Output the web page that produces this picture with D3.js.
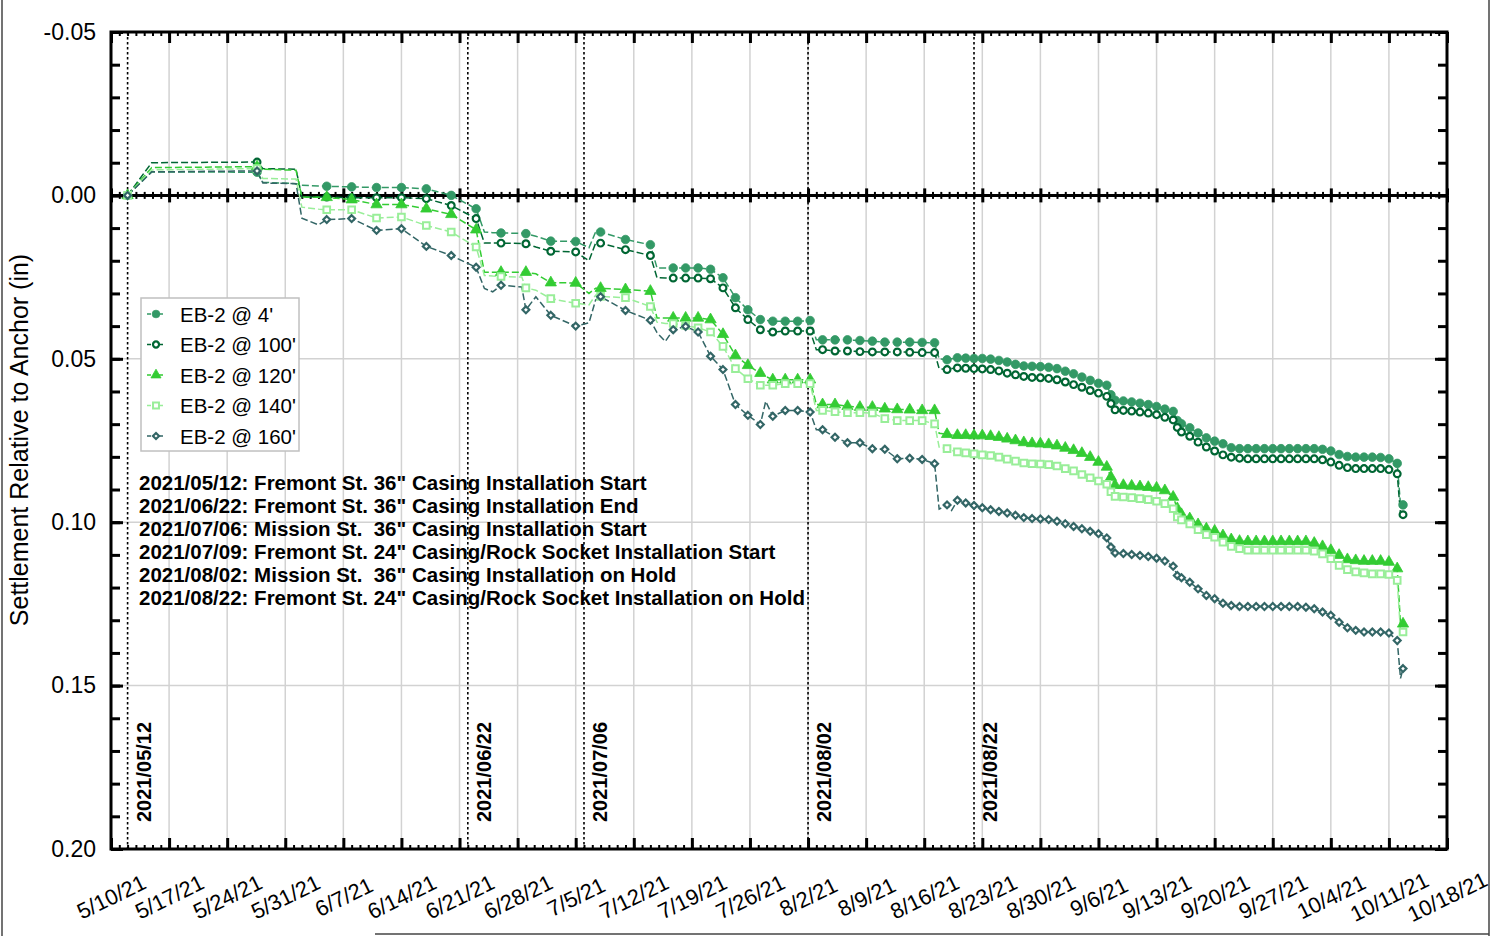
<!DOCTYPE html>
<html><head><meta charset="utf-8">
<script src="https://cdn.jsdelivr.net/npm/d3@7"></script>
<style>body{margin:0;background:#fff}svg{display:block}text{font-family:"Liberation Sans",Arial,sans-serif}</style>
</head><body>
<svg id="c" width="1500" height="936"></svg>
<script>
// ---------------- DATA ----------------
const dates = [
"2021-05-12 00:00","2021-05-14 21:36","2021-05-27 14:24","2021-05-28 07:12","2021-06-01 07:12","2021-06-02 00:00","2021-06-04 00:00","2021-06-05 00:00","2021-06-08 00:00","2021-06-11 00:00",
"2021-06-14 00:00","2021-06-17 00:00","2021-06-20 00:00","2021-06-23 00:00","2021-06-24 00:00","2021-06-25 00:00","2021-06-26 00:00","2021-06-28 12:00","2021-06-29 00:00","2021-06-30 04:48",
"2021-07-02 00:00","2021-07-05 00:00","2021-07-06 14:24","2021-07-07 09:36","2021-07-08 00:00","2021-07-11 00:00","2021-07-14 00:00","2021-07-14 19:12","2021-07-15 19:12","2021-07-16 18:00",
"2021-07-18 06:00","2021-07-19 18:00","2021-07-21 06:00","2021-07-22 18:00","2021-07-24 06:00","2021-07-25 18:00","2021-07-27 06:00","2021-07-27 21:36","2021-07-28 18:00","2021-07-30 06:00",
"2021-07-31 18:00","2021-08-02 06:00","2021-08-03 00:00","2021-08-03 18:00","2021-08-05 06:00","2021-08-06 18:00","2021-08-08 06:00","2021-08-09 18:00","2021-08-11 06:00","2021-08-12 18:00",
"2021-08-14 06:00","2021-08-15 18:00","2021-08-17 06:00","2021-08-17 19:12","2021-08-18 18:00","2021-08-19 07:12",
"2021-08-20 00:00","2021-08-21 00:00","2021-08-22 00:00","2021-08-23 00:00","2021-08-24 00:00","2021-08-25 00:00","2021-08-26 00:00","2021-08-27 00:00","2021-08-28 00:00","2021-08-29 00:00","2021-08-30 00:00","2021-08-31 00:00",
"2021-09-01 00:00","2021-09-02 00:00","2021-09-03 00:00","2021-09-04 00:00","2021-09-05 00:00","2021-09-06 00:00","2021-09-07 00:00",
"2021-09-07 12:00",
"2021-09-08 00:00","2021-09-09 00:00","2021-09-10 00:00","2021-09-11 00:00","2021-09-12 00:00","2021-09-13 00:00","2021-09-14 00:00","2021-09-15 00:00",
"2021-09-15 12:00",
"2021-09-16 00:00","2021-09-17 00:00","2021-09-18 00:00","2021-09-19 00:00","2021-09-20 00:00","2021-09-21 00:00","2021-09-22 00:00","2021-09-23 00:00","2021-09-24 00:00","2021-09-25 00:00","2021-09-26 00:00","2021-09-27 00:00","2021-09-28 00:00","2021-09-29 00:00","2021-09-30 00:00",
"2021-10-01 00:00","2021-10-02 00:00","2021-10-03 00:00","2021-10-04 00:00","2021-10-05 00:00","2021-10-06 00:00","2021-10-07 00:00","2021-10-08 00:00","2021-10-09 00:00","2021-10-10 00:00","2021-10-11 00:00","2021-10-12 00:00",
"2021-10-12 09:36","2021-10-12 16:48"
];
const markerOn = [
1,0,1,0,0,0,0,1,1,1, 1,1,1,1,0,0,1,0,1,0, 1,1,0,0,1,1,1,0,0,1, 1,1,1,1,1,1,1,0,1,1, 1,1,0,1,1,1,1,1,1,1, 1,1,1,0,1,0,
1,1,1,1,1,1,1,1,1,1,1,1, 1,1,1,1,1,1,1, 1, 1,1,1,1,1,1,1,1, 1, 1,1,1,1,1,1,1,1,1,1,1,1,1,1,1, 1,1,1,1,1,1,1,1,1,1,1,1, 0,1
];
const eb2_4 = [
0,-0.0072,-0.0071,-0.0040,-0.0036,-0.0031,-0.0029,-0.0028,-0.0026,-0.0024, -0.0024,-0.0020,0.0000,0.0041,0.0112,0.0114,0.0115,0.0116,0.0117,0.0125,
0.0140,0.0141,0.0160,0.0112,0.0112,0.0135,0.0151,0.0222,0.0222,0.0222, 0.0222,0.0222,0.0226,0.0252,0.0313,0.0350,0.0380,0.0382,0.0385,0.0385,
0.0385,0.0383,0.0442,0.0442,0.0442,0.0442,0.0444,0.0446,0.0449,0.0449, 0.0449,0.0450,0.0451,0.0500,0.0503,0.0500,
0.0497,0.0498,0.0499,0.0499,0.0501,0.0505,0.0510,0.0517,0.0522,0.0523,0.0524,0.0526,
0.0530,0.0538,0.0546,0.0556,0.0566,0.0575,0.0581, 0.0610,
0.0627,0.0629,0.0632,0.0636,0.0640,0.0646,0.0654,0.0661, 0.0689,
0.0699,0.0711,0.0727,0.0742,0.0752,0.0760,0.0772,0.0775,0.0775,0.0775,0.0775,0.0775,0.0775,0.0775,0.0775,
0.0775,0.0775,0.0777,0.0782,0.0793,0.0799,0.0801,0.0801,0.0801,0.0802,0.0806,0.0820,
0.0947,0.0947
];
const eb2_100 = [
0,-0.0100,-0.0102,-0.0082,-0.0080,0.0005,0.0005,0.0005,0.0007,0.0007, 0.0007,0.0010,0.0031,0.0071,0.0146,0.0146,0.0146,0.0147,0.0148,0.0158,
0.0171,0.0173,0.0200,0.0146,0.0146,0.0166,0.0184,0.0252,0.0253,0.0253, 0.0253,0.0253,0.0255,0.0283,0.0344,0.0380,0.0411,0.0414,0.0418,0.0415,
0.0415,0.0415,0.0472,0.0472,0.0476,0.0476,0.0478,0.0479,0.0479,0.0479, 0.0480,0.0481,0.0481,0.0530,0.0533,0.0530,
0.0528,0.0529,0.0530,0.0531,0.0533,0.0537,0.0544,0.0549,0.0554,0.0557,0.0558,0.0560,
0.0564,0.0571,0.0579,0.0587,0.0597,0.0605,0.0615, 0.0637,
0.0656,0.0658,0.0660,0.0663,0.0666,0.0671,0.0679,0.0687, 0.0710,
0.0724,0.0737,0.0755,0.0770,0.0782,0.0794,0.0801,0.0804,0.0806,0.0806,0.0806,0.0806,0.0806,0.0806,0.0806,
0.0806,0.0806,0.0809,0.0816,0.0826,0.0833,0.0836,0.0836,0.0836,0.0836,0.0839,0.0852,
0.0977,0.0977
];
const eb2_120 = [
0,-0.0085,-0.0088,-0.0080,-0.0077,0.0005,0.0006,0.0006,0.0013,0.0028, 0.0028,0.0041,0.0058,0.0105,0.0235,0.0235,0.0235,0.0235,0.0235,0.0240,
0.0267,0.0268,0.0300,0.0284,0.0284,0.0288,0.0293,0.0375,0.0375,0.0375, 0.0375,0.0375,0.0380,0.0425,0.0490,0.0520,0.0544,0.0554,0.0564,0.0564,
0.0564,0.0564,0.0640,0.0640,0.0640,0.0645,0.0648,0.0648,0.0653,0.0655, 0.0656,0.0658,0.0658,0.0728,0.0731,0.0733,
0.0734,0.0734,0.0735,0.0735,0.0737,0.0740,0.0745,0.0750,0.0756,0.0759,0.0760,0.0762,
0.0766,0.0773,0.0780,0.0789,0.0801,0.0816,0.0831, 0.0862,
0.0887,0.0887,0.0889,0.0891,0.0893,0.0895,0.0903,0.0923, 0.0958,
0.0976,0.0989,0.1007,0.1020,0.1027,0.1041,0.1053,0.1058,0.1059,0.1059,0.1059,0.1059,0.1059,0.1059,0.1059,
0.1059,0.1064,0.1074,0.1086,0.1101,0.1114,0.1117,0.1119,0.1119,0.1119,0.1122,0.1142,
0.1311,0.1311
];
const eb2_140 = [
0,-0.0078,-0.0082,-0.0052,-0.0050,0.0036,0.0042,0.0044,0.0044,0.0069, 0.0066,0.0092,0.0112,0.0158,0.0245,0.0247,0.0248,0.0250,0.0283,0.0290,
0.0316,0.0330,0.0335,0.0305,0.0309,0.0313,0.0340,0.0388,0.0392,0.0392, 0.0398,0.0405,0.0418,0.0462,0.0530,0.0561,0.0581,0.0581,0.0581,0.0576,
0.0576,0.0576,0.0658,0.0658,0.0662,0.0665,0.0665,0.0666,0.0683,0.0689, 0.0689,0.0689,0.0699,0.0770,0.0775,0.0780,
0.0785,0.0788,0.0791,0.0794,0.0796,0.0801,0.0807,0.0813,0.0819,0.0821,0.0822,0.0824,
0.0828,0.0836,0.0843,0.0854,0.0864,0.0874,0.0884, 0.0907,
0.0921,0.0923,0.0925,0.0928,0.0931,0.0936,0.0943,0.0959, 0.0984,
0.0993,0.1005,0.1023,0.1038,0.1046,0.1061,0.1074,0.1081,0.1086,0.1086,0.1086,0.1086,0.1086,0.1086,0.1086,
0.1086,0.1089,0.1097,0.1112,0.1132,0.1145,0.1152,0.1155,0.1158,0.1158,0.1160,0.1178,
0.1336,0.1336
];
const eb2_160 = [
0,-0.0072,-0.0075,-0.0038,-0.0036,0.0070,0.0090,0.0074,0.0071,0.0107, 0.0102,0.0156,0.0184,0.0220,0.0285,0.0295,0.0275,0.0280,0.0350,0.0310,
0.0367,0.0400,0.0390,0.0320,0.0310,0.0352,0.0382,0.0420,0.0447,0.0411, 0.0401,0.0418,0.0492,0.0533,0.0640,0.0673,0.0701,0.0630,0.0676,0.0658,
0.0658,0.0663,0.0717,0.0717,0.0740,0.0757,0.0757,0.0775,0.0777,0.0806, 0.0804,0.0808,0.0821,0.0960,0.0947,0.0964,
0.0933,0.0941,0.0949,0.0956,0.0962,0.0967,0.0972,0.0979,0.0986,0.0989,0.0990,0.0992,
0.0997,0.1005,0.1013,0.1020,0.1028,0.1035,0.1048, 0.1076,
0.1094,0.1096,0.1099,0.1102,0.1105,0.1110,0.1119,0.1135, 0.1163,
0.1170,0.1184,0.1204,0.1224,0.1234,0.1248,0.1255,0.1258,0.1258,0.1258,0.1258,0.1258,0.1258,0.1258,0.1258,
0.1260,0.1265,0.1275,0.1285,0.1306,0.1323,0.1331,0.1336,0.1336,0.1336,0.1339,0.1362,
0.1478,0.1448
];
const seriesNames = ["EB-2 @ 4'","EB-2 @ 100'","EB-2 @ 120'","EB-2 @ 140'","EB-2 @ 160'"];
const yTicks = [-0.05, 0.00, 0.05, 0.10, 0.15, 0.20];
const xTickDates = ["2021-05-10","2021-05-17","2021-05-24","2021-05-31","2021-06-07","2021-06-14","2021-06-21","2021-06-28","2021-07-05","2021-07-12","2021-07-19","2021-07-26","2021-08-02","2021-08-09","2021-08-16","2021-08-23","2021-08-30","2021-09-06","2021-09-13","2021-09-20","2021-09-27","2021-10-04","2021-10-11","2021-10-18"];
const eventDates = ["2021-05-12","2021-06-22","2021-07-06","2021-08-02","2021-08-22"];
const eventLabels = ["2021/05/12","2021/06/22","2021/07/06","2021/08/02","2021/08/22"];
const notes = [
"2021/05/12: Fremont St. 36\" Casing Installation Start",
"2021/06/22: Fremont St. 36\" Casing Installation End",
"2021/07/06: Mission St.  36\" Casing Installation Start",
"2021/07/09: Fremont St. 24\" Casing/Rock Socket Installation Start",
"2021/08/02: Mission St.  36\" Casing Installation on Hold",
"2021/08/22: Fremont St. 24\" Casing/Rock Socket Installation on Hold"
];
const yTitle = "Settlement Relative to Anchor (in)";

// ---------------- DRAW ----------------
const p1 = d3.timeParse("%Y-%m-%d %H:%M"), p2 = d3.timeParse("%Y-%m-%d");
const parse = s => p1(s) || p2(s);
const T = dates.map(parse);
const svg = d3.select("#c");
const L = 111, R = 1447, TOP = 32, BOT = 849;
const x = d3.scaleTime().domain([parse(xTickDates[0]), parse(xTickDates[xTickDates.length-1])]).range([L, R]);
const y = d3.scaleLinear().domain([yTicks[0], yTicks[yTicks.length-1]]).range([TOP, BOT]);
const weeks = xTickDates.map(parse);
const days = d3.timeDay.range(x.domain()[0], d3.timeDay.offset(x.domain()[1], 1));
const minorY = d3.range(0, 26).map(i => +(yTicks[0] + i * 0.01).toFixed(2));

const diamondSym = d3.symbolDiamond2 || d3.symbolDiamond;
const styles = [
  {color:"#339966", sym:d3.symbolCircle, size:58, fill:true},
  {color:"#006633", sym:d3.symbolCircle, size:36, fill:false, sw:2.2},
  {color:"#33cc33", sym:d3.symbolTriangle, size:55, fill:true},
  {color:"#99ee99", sym:d3.symbolSquare, size:44, fill:false, sw:2},
  {color:"#336666", sym:diamondSym, size:30, fill:false, sw:2.2}
];
const values = [eb2_4, eb2_100, eb2_120, eb2_140, eb2_160];

// image border
svg.append("line").attr("x1",2).attr("x2",2).attr("y1",0).attr("y2",936).attr("stroke","#444").attr("stroke-width",1.5);
svg.append("line").attr("x1",1489).attr("x2",1489).attr("y1",0).attr("y2",936).attr("stroke","#444").attr("stroke-width",1.5);
svg.append("line").attr("x1",375).attr("x2",1489).attr("y1",934).attr("y2",934).attr("stroke","#444").attr("stroke-width",1.5);

// grid
svg.append("g").selectAll("line").data(weeks.slice(1,-1)).join("line")
  .attr("x1",d=>x(d)).attr("x2",d=>x(d)).attr("y1",TOP).attr("y2",BOT)
  .attr("stroke","#d2d2d2").attr("stroke-width",1.5);
svg.append("g").selectAll("line").data(yTicks.filter(v=>v!==0).slice(1,-1)).join("line")
  .attr("x1",L).attr("x2",R).attr("y1",d=>y(d)).attr("y2",d=>y(d))
  .attr("stroke","#d2d2d2").attr("stroke-width",1.5);

// event lines
svg.append("g").selectAll("line").data(eventDates).join("line")
  .attr("x1",d=>x(parse(d))).attr("x2",d=>x(parse(d))).attr("y1",TOP).attr("y2",BOT)
  .attr("stroke","#000").attr("stroke-width",1.6).attr("stroke-dasharray","2.5,2.5");

// zero line with ticks on both sides
svg.append("line").attr("x1",L).attr("x2",R).attr("y1",y(0)).attr("y2",y(0)).attr("stroke","#000").attr("stroke-width",3);
function tickAxis(axis, vals, size, sw, tr){
  const g = svg.append("g").attr("transform",tr).call(axis.tickValues(vals).tickSize(size).tickFormat(""));
  g.select(".domain").remove();
  g.selectAll("line").attr("stroke","#000").attr("stroke-width",sw);
  return g;
}
tickAxis(d3.axisBottom(x), days, 3.5, 2, `translate(0,${y(0)})`);
tickAxis(d3.axisTop(x), days, 3.5, 2, `translate(0,${y(0)})`);
tickAxis(d3.axisBottom(x), weeks, 7, 3, `translate(0,${y(0)})`);
tickAxis(d3.axisTop(x), weeks, 7, 3, `translate(0,${y(0)})`);

// series lines
values.forEach((vals,k)=>{
  svg.append("path").datum(vals).attr("d", d3.line().x((d,i)=>x(T[i])).y(d=>y(d)))
    .attr("fill","none").attr("stroke",styles[k].color).attr("stroke-width",1.5)
    .attr("stroke-dasharray","7,3");
});
// markers
values.forEach((vals,k)=>{
  const st = styles[k];
  const pts = vals.map((v,i)=>({t:T[i], v, m:markerOn[i]})).filter(d=>d.m);
  svg.append("g").selectAll("path").data(pts).join("path")
    .attr("transform", d=>`translate(${x(d.t)},${y(d.v)})`)
    .attr("d", d3.symbol().type(st.sym).size(st.size))
    .attr("fill", st.fill ? st.color : "#fff")
    .attr("stroke", st.color).attr("stroke-width", st.fill ? 0.8 : st.sw);
});

// frame + axis ticks
svg.append("rect").attr("x",L).attr("y",TOP).attr("width",R-L).attr("height",BOT-TOP)
  .attr("fill","none").attr("stroke","#000").attr("stroke-width",3);
tickAxis(d3.axisBottom(x), days, 4, 2, `translate(0,${TOP})`);
tickAxis(d3.axisBottom(x), weeks, 11, 3, `translate(0,${TOP})`);
tickAxis(d3.axisTop(x), days, 4, 2, `translate(0,${BOT})`);
tickAxis(d3.axisTop(x), weeks, 11, 3, `translate(0,${BOT})`);
tickAxis(d3.axisRight(y), minorY, 9, 3, `translate(${L},0)`);
tickAxis(d3.axisRight(y), yTicks, 12, 3, `translate(${L},0)`);
tickAxis(d3.axisLeft(y), minorY, 9, 3, `translate(${R},0)`);
tickAxis(d3.axisLeft(y), yTicks, 12, 3, `translate(${R},0)`);

// y labels
const gy = svg.append("g").attr("transform",`translate(${L},0)`)
  .call(d3.axisLeft(y).tickValues(yTicks).tickSize(0).tickPadding(15).tickFormat(d=>d.toFixed(2)));
gy.select(".domain").remove();
gy.selectAll("text").attr("font-size",23).attr("fill","#000").style("font-family",'"Liberation Sans",Arial,sans-serif');

// x labels
const gx = svg.append("g").attr("transform",`translate(0,${BOT})`)
  .call(d3.axisBottom(x).tickValues(weeks).tickSize(0).tickFormat(d3.timeFormat("%-m/%-d/%y")));
gx.select(".domain").remove();
gx.selectAll("text").attr("y",0).attr("dy",null)
  .attr("transform","translate(0,48) rotate(-26)").attr("text-anchor","middle")
  .attr("dominant-baseline","central").attr("font-size",22).attr("fill","#000")
  .style("font-family",'"Liberation Sans",Arial,sans-serif');

// y title
svg.append("text").attr("transform","translate(28,440) rotate(-90)").attr("text-anchor","middle")
  .attr("font-size",25).text(yTitle);

// event labels
svg.append("g").selectAll("text").data(eventLabels).join("text")
  .attr("transform",(d,i)=>`translate(${x(parse(eventDates[i]))+23},822) rotate(-90)`)
  .attr("font-size",20).attr("font-weight","bold").text(d=>d);

// notes
svg.append("g").selectAll("text").data(notes).join("text")
  .attr("x",139).attr("y",(d,i)=>490+i*23).attr("font-size",20.5).attr("font-weight","bold")
  .style("white-space","pre").attr("xml:space","preserve").text(d=>d);

// legend
const lg = svg.append("g");
lg.append("rect").attr("x",141).attr("y",298).attr("width",158).attr("height",153)
  .attr("fill","#fff").attr("stroke","#c0c0c0").attr("stroke-width",1.5);
seriesNames.forEach((nm,k)=>{
  const st = styles[k], cy = 314 + k*30.5;
  lg.append("line").attr("x1",147).attr("x2",165).attr("y1",cy).attr("y2",cy)
    .attr("stroke",st.color).attr("stroke-width",1.5).attr("stroke-dasharray","4,2");
  lg.append("path").attr("transform",`translate(156,${cy})`).attr("d",d3.symbol().type(st.sym).size(st.size*0.8))
    .attr("fill", st.fill ? st.color : "#fff").attr("stroke",st.color).attr("stroke-width", st.fill?0.8:st.sw);
  lg.append("text").attr("x",180).attr("y",cy+7.5).attr("font-size",20.5).text(nm);
});
</script>
</body></html>
